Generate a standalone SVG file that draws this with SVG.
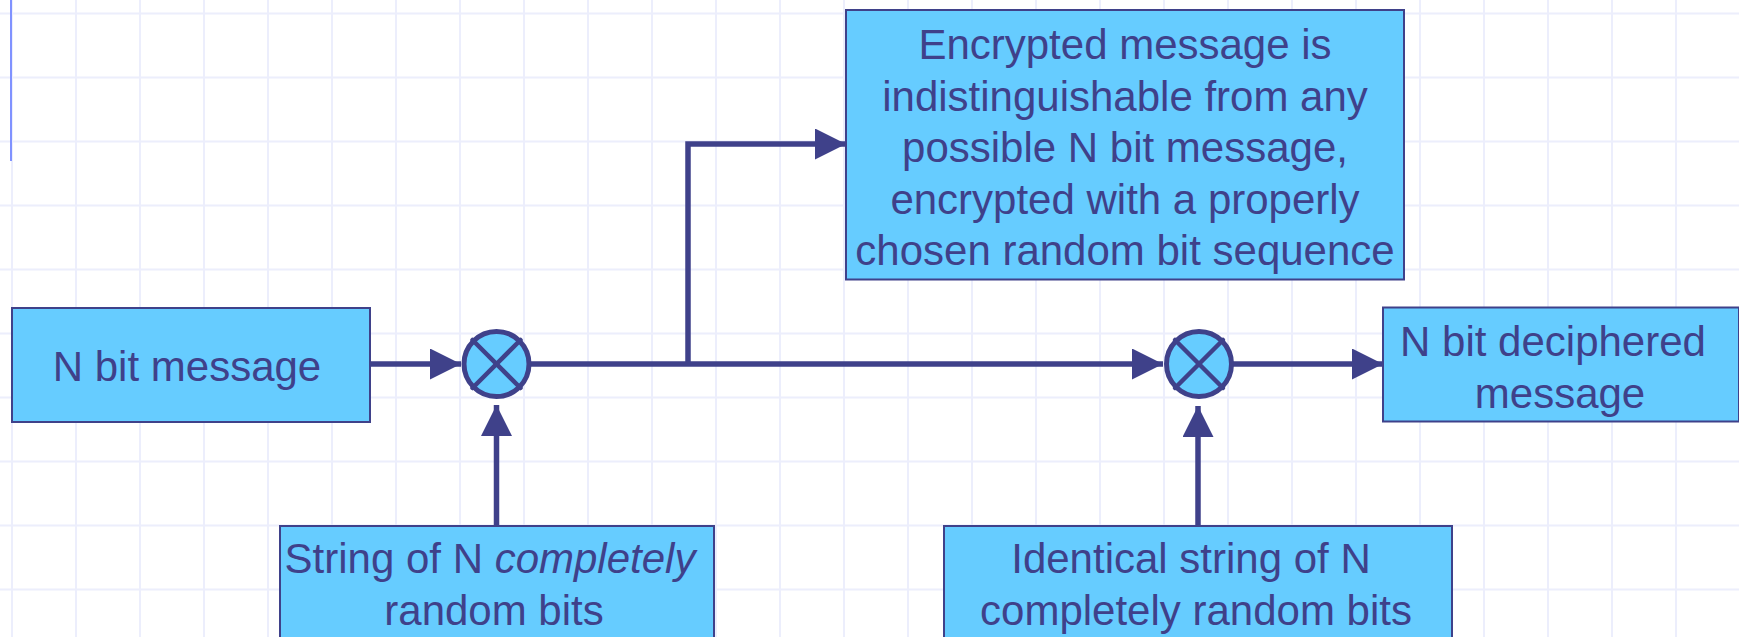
<svg xmlns="http://www.w3.org/2000/svg" width="1739" height="637" viewBox="0 0 1739 637">
  <defs>
    <style>
      .grid line { stroke: #eceefc; stroke-width: 2; }
      .box { fill: #66ccff; stroke: #3f418a; stroke-width: 2; }
      .lbl { font-family: "Liberation Sans", Arial, sans-serif; font-size: 42px; fill: #3f418a; text-anchor: middle; }
      .wire { fill: none; stroke: #3f418a; stroke-width: 5.5; stroke-linejoin: miter; }
      .mix circle { fill: #66ccff; stroke: #3f418a; stroke-width: 5; }
      .mix line { stroke: #3f418a; stroke-width: 4.5; stroke-linecap: round; }
    </style>
    <marker id="arrow" markerUnits="userSpaceOnUse" markerWidth="31" markerHeight="31" viewBox="0 0 30 30" refX="30" refY="15" orient="auto">
      <path d="M0,0 L30,15 L0,30 Z" fill="#3f418a"/>
    </marker>
  </defs>

  <rect width="1739" height="637" fill="#ffffff"/>

  <!-- background grid -->
  <g class="grid">
    <line x1="12" y1="0" x2="12" y2="637"/>
    <line x1="76" y1="0" x2="76" y2="637"/>
    <line x1="140" y1="0" x2="140" y2="637"/>
    <line x1="204" y1="0" x2="204" y2="637"/>
    <line x1="268" y1="0" x2="268" y2="637"/>
    <line x1="332" y1="0" x2="332" y2="637"/>
    <line x1="396" y1="0" x2="396" y2="637"/>
    <line x1="460" y1="0" x2="460" y2="637"/>
    <line x1="524" y1="0" x2="524" y2="637"/>
    <line x1="588" y1="0" x2="588" y2="637"/>
    <line x1="652" y1="0" x2="652" y2="637"/>
    <line x1="716" y1="0" x2="716" y2="637"/>
    <line x1="780" y1="0" x2="780" y2="637"/>
    <line x1="844" y1="0" x2="844" y2="637"/>
    <line x1="908" y1="0" x2="908" y2="637"/>
    <line x1="972" y1="0" x2="972" y2="637"/>
    <line x1="1036" y1="0" x2="1036" y2="637"/>
    <line x1="1100" y1="0" x2="1100" y2="637"/>
    <line x1="1164" y1="0" x2="1164" y2="637"/>
    <line x1="1228" y1="0" x2="1228" y2="637"/>
    <line x1="1292" y1="0" x2="1292" y2="637"/>
    <line x1="1356" y1="0" x2="1356" y2="637"/>
    <line x1="1420" y1="0" x2="1420" y2="637"/>
    <line x1="1484" y1="0" x2="1484" y2="637"/>
    <line x1="1548" y1="0" x2="1548" y2="637"/>
    <line x1="1612" y1="0" x2="1612" y2="637"/>
    <line x1="1676" y1="0" x2="1676" y2="637"/>
    <line x1="0" y1="13.5" x2="1739" y2="13.5"/>
    <line x1="0" y1="77.5" x2="1739" y2="77.5"/>
    <line x1="0" y1="141.5" x2="1739" y2="141.5"/>
    <line x1="0" y1="205.5" x2="1739" y2="205.5"/>
    <line x1="0" y1="269.5" x2="1739" y2="269.5"/>
    <line x1="0" y1="333.5" x2="1739" y2="333.5"/>
    <line x1="0" y1="397.5" x2="1739" y2="397.5"/>
    <line x1="0" y1="461.5" x2="1739" y2="461.5"/>
    <line x1="0" y1="525.5" x2="1739" y2="525.5"/>
    <line x1="0" y1="589.5" x2="1739" y2="589.5"/>
  </g>

  <!-- margin rule -->
  <line x1="11" y1="0" x2="11" y2="161" stroke="#8092ff" stroke-width="2"/>

  <!-- connectors -->
  <g id="connectors">
    <circle cx="369" cy="364" r="3" fill="#3f418a"/>
    <line class="wire" x1="369" y1="364" x2="461" y2="364" marker-end="url(#arrow)"/>
    <line class="wire" x1="530" y1="364" x2="1163" y2="364" marker-end="url(#arrow)"/>
    <polyline class="wire" points="688,364 688,144 846,144" marker-end="url(#arrow)"/>
    <line class="wire" x1="1232" y1="364" x2="1383" y2="364" marker-end="url(#arrow)"/>
    <line class="wire" x1="496.5" y1="526" x2="496.5" y2="405" marker-end="url(#arrow)"/>
    <line class="wire" x1="1198" y1="526" x2="1198" y2="406" marker-end="url(#arrow)"/>
  </g>

  <g id="msg">
    <rect class="box" x="12" y="308" width="358" height="114"/>
    <text class="lbl" x="187" y="381">N bit message</text>
  </g>

  <g id="xor1" class="mix">
    <circle cx="496.5" cy="364" r="32.5"/>
    <line x1="472.5" y1="340" x2="520.5" y2="388"/>
    <line x1="520.5" y1="340" x2="472.5" y2="388"/>
  </g>

  <g id="xor2" class="mix">
    <circle cx="1199" cy="364" r="32.5"/>
    <line x1="1175" y1="340" x2="1223" y2="388"/>
    <line x1="1223" y1="340" x2="1175" y2="388"/>
  </g>

  <g id="encrypted">
    <rect class="box" x="846" y="10" width="558" height="269.5"/>
    <text class="lbl" x="1125" y="59">Encrypted message is</text>
    <text class="lbl" x="1125" y="110.5">indistinguishable from any</text>
    <text class="lbl" x="1125" y="162">possible N bit message,</text>
    <text class="lbl" x="1125" y="213.5">encrypted with a properly</text>
    <text class="lbl" x="1125" y="265">chosen random bit sequence</text>
  </g>

  <g id="deciphered">
    <rect class="box" x="1383" y="307.5" width="356" height="114"/>
    <text class="lbl" x="1553" y="356">N bit deciphered</text>
    <text class="lbl" x="1560" y="407.5">message</text>
  </g>

  <g id="key1">
    <rect class="box" x="280" y="526" width="434" height="120"/>
    <text class="lbl" x="490" y="573">String of N <tspan font-style="italic">completely</tspan></text>
    <text class="lbl" x="494" y="625">random bits</text>
  </g>

  <g id="key2">
    <rect class="box" x="944" y="526" width="508" height="120"/>
    <text class="lbl" x="1191" y="573">Identical string of N</text>
    <text class="lbl" x="1196" y="625">completely random bits</text>
  </g>
</svg>
